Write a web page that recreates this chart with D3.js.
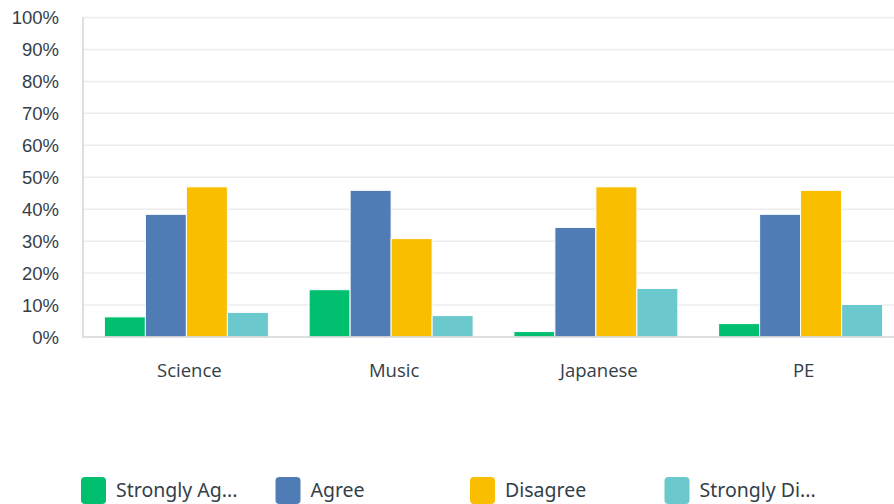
<!DOCTYPE html>
<html>
<head>
<meta charset="utf-8">
<script src="https://cdn.jsdelivr.net/npm/d3@7"></script>
<style>
  body { margin: 0; background: #fff; }
  svg { display: block; font-family: "Open Sans", sans-serif; }
</style>
</head>
<body>
<div id="chart-target"></div>
<script>
// chart data
var categories = ["Science", "Music", "Japanese", "PE"];
var seriesNames = ["Strongly Agree", "Agree", "Disagree", "Strongly Disagree"];
var legendLabels = ["Strongly Ag...", "Agree", "Disagree", "Strongly Di..."];
var stronglyAgree = [6.3, 14.8, 1.7, 4.2];
var agree = [38.4, 45.9, 34.3, 38.4];
var disagree = [47.0, 30.8, 47.0, 45.9];
var stronglyDisagree = [7.7, 6.7, 15.2, 10.2];
var yTicks = [0, 10, 20, 30, 40, 50, 60, 70, 80, 90, 100];
var colors = ["#00bf6f", "#507cb6", "#f9be00", "#6bc8cd"];

var width = 894,
    height = 504;

var svg = d3.select("#chart-target").append("svg")
  .attr("width", width)
  .attr("height", height);

var x = d3.scaleBand()
  .domain(categories)
  .range([84, 903])
  .padding(0);

var xInner = d3.scaleBand()
  .domain(seriesNames)
  .range([0, 164]);

var y = d3.scaleLinear()
  .domain([0, 100])
  .range([337, 17.5]);

// gridlines
svg.append("g")
  .selectAll("line")
  .data(yTicks.filter((d) => d > 0))
  .enter().append("line")
  .attr("x1", 83)
  .attr("x2", width)
  .attr("y1", (d) => y(d))
  .attr("y2", (d) => y(d))
  .attr("stroke", "#ececec")
  .attr("stroke-width", 1.5);

// y axis labels
var yAxis = svg.append("g")
  .attr("transform", "translate(59,0)")
  .call(d3.axisLeft(y).tickValues(yTicks).tickFormat((d) => d + "%").tickSize(0).tickPadding(0));
yAxis.select(".domain").remove();
yAxis.selectAll("text")
  .attr("fill", "#333e48")
  .style("font-size", "18.5px")
  .style("font-weight", 500)
  .attr("dy", "0.35em");

// bars
var seriesValues = [stronglyAgree, agree, disagree, stronglyDisagree];
var groups = svg.append("g")
  .selectAll("g")
  .data(categories)
  .enter().append("g")
  .attr("transform", (d) => `translate(${x(d) + (x.bandwidth() - 164) / 2},0)`);

groups.selectAll("rect")
  .data((d, i) => seriesNames.map((s, j) => ({ series: s, value: seriesValues[j][i], idx: j })))
  .enter().append("rect")
  .attr("x", (d) => xInner(d.series))
  .attr("width", xInner.bandwidth())
  .attr("y", (d) => y(d.value))
  .attr("height", (d) => y(0) - y(d.value))
  .attr("fill", (d) => colors[d.idx])
  .attr("stroke", "#fff")
  .attr("stroke-width", 1);

// axis lines
svg.append("line")
  .attr("x1", 83).attr("x2", 83)
  .attr("y1", 17).attr("y2", 337.5)
  .attr("stroke", "#d5d5d5")
  .attr("stroke-width", 1.5);
svg.append("line")
  .attr("x1", 83).attr("x2", width)
  .attr("y1", 337).attr("y2", 337)
  .attr("stroke", "#d5d5d5")
  .attr("stroke-width", 1.5);

// category labels
svg.append("g")
  .selectAll("text")
  .data(categories)
  .enter().append("text")
  .attr("x", (d) => x(d) + x.bandwidth() / 2 + 3)
  .attr("y", 377)
  .attr("text-anchor", "middle")
  .attr("fill", "#333e48")
  .style("font-size", "18.5px")
  .style("font-weight", 500)
  .text((d) => d);

// legend
var legend = svg.append("g")
  .selectAll("g")
  .data(legendLabels)
  .enter().append("g")
  .attr("transform", (d, i) => `translate(${81 + i * 194.5},477)`);

legend.append("rect")
  .attr("width", 25)
  .attr("height", 27)
  .attr("rx", 4)
  .attr("fill", (d, i) => colors[i]);

legend.append("text")
  .attr("x", 35)
  .attr("y", 20)
  .attr("fill", "#333e48")
  .style("font-family", "'Noto Sans', sans-serif")
  .style("font-size", "19.5px")
  .text((d) => d);
</script>
</body>
</html>
